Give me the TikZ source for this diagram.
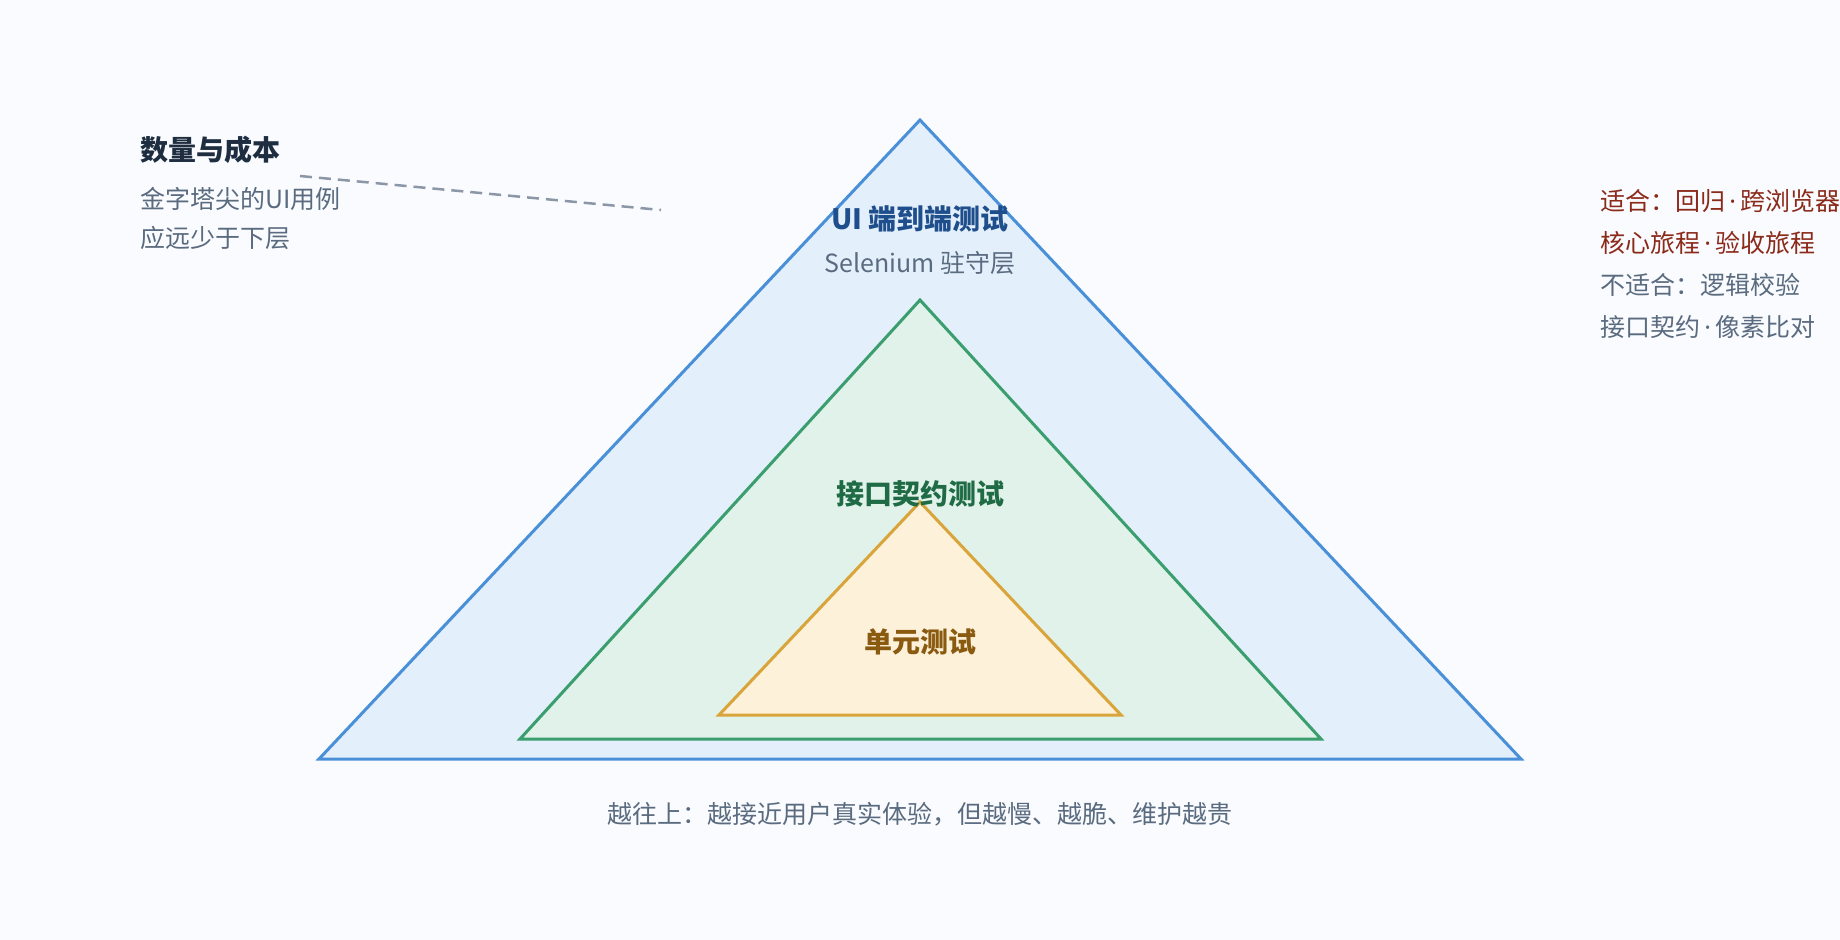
\documentclass[tikz,border=0pt]{standalone}
\usepackage{fontspec}
\setmainfont{Noto Sans CJK SC}
\newfontfamily\latinf{Noto Sans}
\newcommand{\mdot}{{\latinf\,·\,}}
\definecolor{bg}{HTML}{F9FBFE}
\definecolor{bS}{HTML}{4A90D9}\definecolor{bF}{HTML}{E3EFFA}
\definecolor{gS}{HTML}{3A9E6E}\definecolor{gF}{HTML}{E0F2E9}
\definecolor{oS}{HTML}{D9A43A}\definecolor{oF}{HTML}{FDF1DA}
\definecolor{tB}{HTML}{1F4E8C}\definecolor{tG}{HTML}{1E6B45}
\definecolor{tO}{HTML}{8A5A10}\definecolor{gray}{HTML}{5A6B80}
\definecolor{red}{HTML}{8B2A1A}\definecolor{dark}{HTML}{1E2D40}
\begin{document}
\begin{tikzpicture}[x=1pt,y=-1pt,
  lay/.style={line width=3pt,line join=miter},
  t/.style={font=\fontsize{25}{30}\selectfont,text=gray,inner sep=0},
  tb/.style={font=\fontsize{28}{32}\selectfont\bfseries,inner sep=0}]
\fill[bg] (0,0) rectangle (1840,940);
\clip (0,0) rectangle (1840,940);
\useasboundingbox (0,0) rectangle (1840,940);
\draw[lay,draw=bS,fill=bF] (920,120) -- (1521,759) -- (319,759) -- cycle;
\draw[lay,draw=gS,fill=gF] (920,300) -- (1321,739) -- (520,739) -- cycle;
\draw[lay,draw=oS,fill=oF] (920,502) -- (1121,715) -- (719,715) -- cycle;
\node[tb,text=tB] (ui) at (920,219) {UI 端到端测试};
\node[t] (sel) at (920,263) {Selenium 驻守层};
\node[tb,text=tG] (api) at (920,494) {接口契约测试};
\node[tb,text=tO] (unit) at (920,642) {单元测试};
\node[t] (bot) at (920,814) {越往上：越接近用户真实体验，但越慢、越脆、维护越贵};
\node[tb,text=dark,anchor=west] (qt) at (140,150) {数量与成本};
\node[t,anchor=west] (l1) at (140,199) {金字塔尖的UI用例};
\node[t,anchor=west] (l2) at (140,238) {应远少于下层};
\coordinate (d1) at (300,176); \coordinate (d2) at (661,210);
\draw[gray!70,line width=2.5pt,dash pattern=on 12pt off 7pt] (d1) -- (d2);
\node[t,text=red,anchor=west] (r1) at (1600,201) {适合：回归\mdot 跨浏览器};
\node[t,text=red,anchor=west] (r2) at (1600,243) {核心旅程\mdot 验收旅程};
\node[t,anchor=west] (r3) at (1600,285) {不适合：逻辑校验};
\node[t,anchor=west] (r4) at (1600,327) {接口契约\mdot 像素比对};
\end{tikzpicture}
\end{document}
